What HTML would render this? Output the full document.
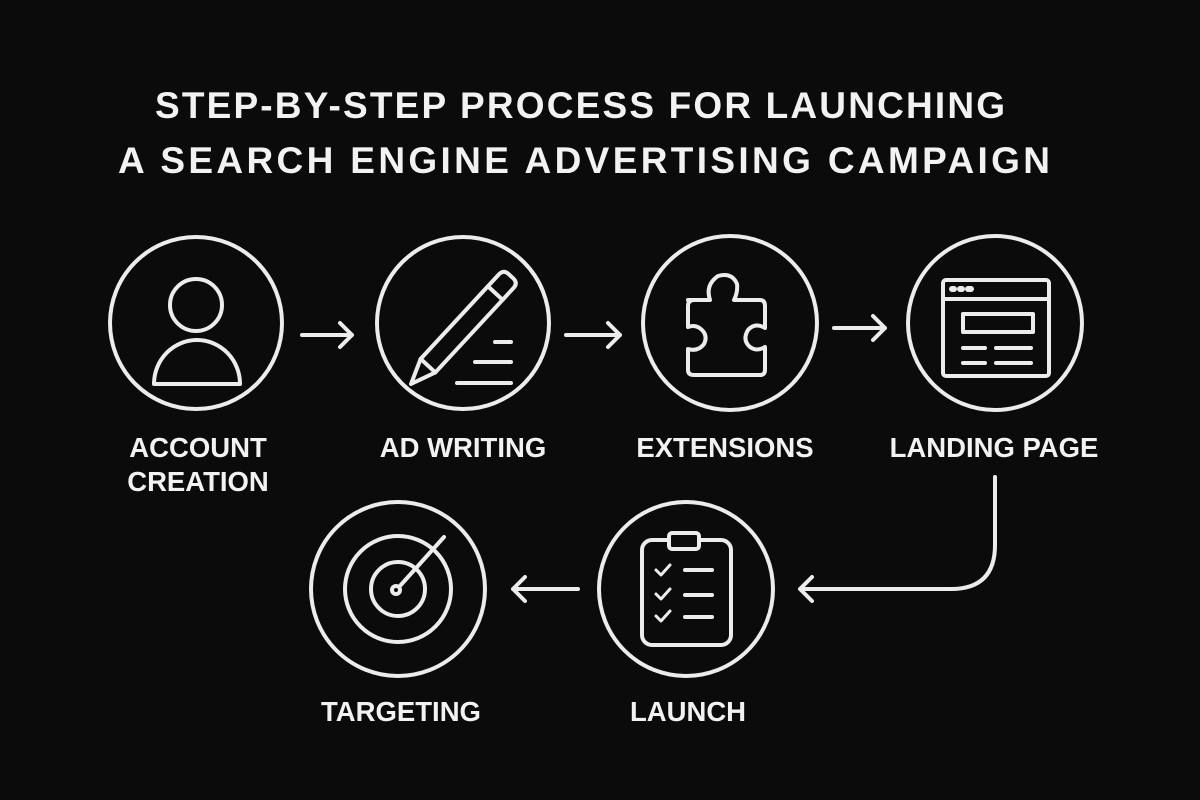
<!DOCTYPE html>
<html><head><meta charset="utf-8"><style>
html,body{margin:0;padding:0;background:#0b0b0b;}
svg{display:block}
text{font-family:"Liberation Sans",sans-serif;font-weight:bold;fill:#f2f2f2}
</style></head><body>
<svg width="1200" height="800" viewBox="0 0 1200 800">
<rect width="1200" height="800" fill="#0b0b0b"/>
<g font-size="37">
<text x="155" y="118" textLength="850" lengthAdjust="spacing">STEP-BY-STEP PROCESS FOR LAUNCHING</text>
<text x="118" y="173" textLength="932" lengthAdjust="spacing">A SEARCH ENGINE ADVERTISING CAMPAIGN</text>
</g>
<g fill="none" stroke="#ececec" stroke-width="4" stroke-linecap="round" stroke-linejoin="round">
<circle cx="196" cy="323" r="86"/>
<circle cx="463" cy="323" r="86"/>
<circle cx="730" cy="323" r="87"/>
<circle cx="995" cy="323" r="87"/>
<circle cx="398" cy="589" r="87"/>
<circle cx="686" cy="589" r="87"/>
<path d="M302 335H352M340 323L352 335L340 347"/>
<path d="M566 335H620M608 323L620 335L608 347"/>
<path d="M834 328H885M873 316L885 328L873 340"/>
<path d="M578 589H513M525 577L513 589L525 601"/>
<path d="M995 477V545Q995 589 951 589H800M812 577L800 589L812 601"/>
<circle cx="196" cy="305" r="26"/>
<path d="M154 384A43 44 0 0 1 240 384Z"/>
<g transform="translate(411 384) rotate(-47.2)">
<path d="M0 0L25 -10H140Q147 -10 147 -3V3Q147 10 140 10H25Z"/>
<path d="M25 -10V10M124 -10V10"/>
</g>
<path d="M495 342H511M475 362H511M457 383H511"/>
<path d="M688 300H710Q705 285 718 276Q732 272 737 284Q738 292 734 300H760Q765 300 765 306V328Q755 322 748 330Q742 340 750 347Q757 352 765 347V370Q765 375 760 375H694Q688 375 688 370V349Q698 352 704 344Q708 336 702 330Q696 324 688 327V306Q688 300 694 300Z"/>
<rect x="943" y="280" width="106" height="96" rx="3"/>
<path d="M943 299H1049"/>
<rect x="963" y="314" width="70" height="18"/>
<path d="M963 348H985M996 348H1031M963 363H985M996 363H1031"/>
<path d="M952 289h2M960 289h2M968 289h3" stroke-width="6"/>
<circle cx="398" cy="589" r="53"/>
<circle cx="398" cy="589" r="27"/>
<circle cx="396" cy="590" r="4"/>
<path d="M399 587L444 537"/>
<rect x="642" y="540" width="89" height="105" rx="10"/>
<rect x="669" y="533" width="30" height="16" rx="3" fill="#0b0b0b"/>
<path d="M656 570l5 5l9 -10M656 594l5 5l9 -10M656 616l5 5l9 -10" stroke-width="3"/>
<path d="M685 570H712M685 595H712M685 617H712"/>
</g>
<g font-size="27.5" text-anchor="middle">
<text x="198" y="457">ACCOUNT</text>
<text x="198" y="491">CREATION</text>
<text x="463" y="457">AD WRITING</text>
<text x="725" y="457">EXTENSIONS</text>
<text x="994" y="457">LANDING PAGE</text>
<text x="401" y="721">TARGETING</text>
<text x="688" y="721">LAUNCH</text>
</g>
</svg>
</body></html>
